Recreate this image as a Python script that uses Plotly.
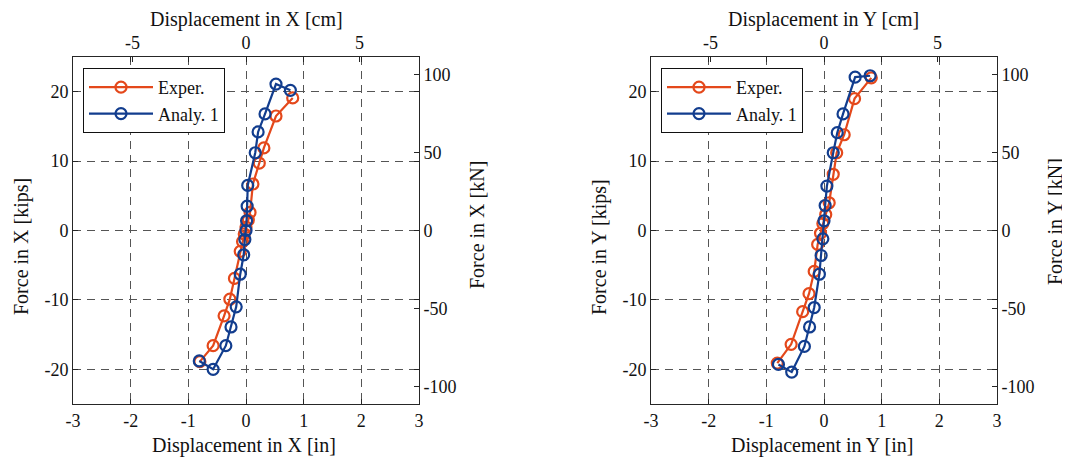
import plotly.graph_objects as go

# ---------------- Data ----------------
# Left panel: X direction  (displacement [in], force [kips])
x_exp_X = [-0.80, -0.57, -0.38, -0.28, -0.20, -0.10, -0.06, -0.03, 0.00, 0.04, 0.07, 0.12, 0.23, 0.31, 0.52, 0.81]
f_exp_X = [-18.9, -16.6, -12.3, -9.9, -6.9, -3.0, -1.6, -0.5, 0.5, 1.5, 2.6, 6.7, 9.7, 11.9, 16.5, 19.1]
x_ana_X = [-0.81, -0.57, -0.35, -0.26, -0.17, -0.10, -0.04, -0.02, 0.00, 0.01, 0.02, 0.03, 0.16, 0.21, 0.33, 0.52, 0.77]
f_ana_X = [-18.8, -20.0, -16.6, -13.9, -11.0, -6.3, -3.5, -1.3, 0.0, 1.4, 3.5, 6.5, 11.2, 14.2, 16.8, 21.1, 20.2]

# Right panel: Y direction
x_exp_Y = [-0.81, -0.57, -0.37, -0.26, -0.17, -0.11, -0.06, -0.02, 0.03, 0.09, 0.16, 0.22, 0.35, 0.53, 0.82]
f_exp_Y = [-19.1, -16.4, -11.7, -9.1, -5.9, -2.0, -0.4, 1.0, 2.3, 4.0, 8.1, 11.2, 13.8, 19.0, 22.0]
x_ana_Y = [-0.79, -0.56, -0.34, -0.25, -0.17, -0.08, -0.05, -0.02, 0.00, 0.02, 0.05, 0.16, 0.23, 0.33, 0.54, 0.80]
f_ana_Y = [-19.3, -20.4, -16.7, -13.9, -11.1, -6.3, -3.6, -1.2, 1.4, 3.6, 6.4, 11.2, 14.1, 16.8, 22.1, 22.3]

series_names = ["Exper.", "Analy. 1"]
x_ticks = [-3, -2, -1, 0, 1, 2, 3]
y_ticks = [-20, -10, 0, 10, 20]
cm_ticks = [-5, 0, 5]
kn_ticks = [-100, -50, 0, 50, 100]
x_range = [-3, 3]
y_range = [-25, 25]

IN_TO_CM = 2.54
KIP_TO_KN = 4.448222

# ---------------- Styling ----------------
W, H = 1070, 463
OFF = 8  # page body margin
FONT = "Liberation Serif, Times New Roman, serif"
C_EXP = "#E4481B"
C_ANA = "#123D8E"
AX_COL = "#262626"
GRID_COL = "#555555"

def px(v):
    return (v - OFF) / W

def py(v):
    return 1 - (v - OFF) / H

dom_L = [px(73), px(419)]
dom_R = [px(651), px(997)]
dom_Y = [py(404), py(57)]

fig = go.Figure()

def add_series(xs, fs, name, color, xa, ya, legend):
    fig.add_trace(go.Scatter(
        x=xs, y=fs, name=name, mode="lines+markers",
        line=dict(color=color, width=2.2),
        marker=dict(symbol="circle-open", size=11, color=color, line=dict(width=2.2, color=color)),
        xaxis=xa, yaxis=ya, legend=legend, hoverinfo="skip",
    ))

add_series(x_exp_X, f_exp_X, series_names[0], C_EXP, "x", "y", "legend")
add_series(x_ana_X, f_ana_X, series_names[1], C_ANA, "x", "y", "legend")
add_series(x_exp_Y, f_exp_Y, series_names[0], C_EXP, "x2", "y2", "legend2")
add_series(x_ana_Y, f_ana_Y, series_names[1], C_ANA, "x2", "y2", "legend2")

# invisible traces so the secondary (cm / kN) axes are drawn
for xs, fs, xa, ya in [(x_exp_X, f_exp_X, "x3", "y3"), (x_exp_Y, f_exp_Y, "x4", "y4")]:
    fig.add_trace(go.Scatter(
        x=[v * IN_TO_CM for v in xs], y=[v * KIP_TO_KN for v in fs],
        mode="markers", marker=dict(opacity=0), showlegend=False,
        hoverinfo="skip", xaxis=xa, yaxis=ya,
    ))

tickfont = dict(family=FONT, size=18, color="#111")

def labels(vals):
    return [str(v) for v in vals]

common_axis = dict(ticks="inside", ticklen=5, tickcolor=AX_COL, tickwidth=1,
                   showline=True, linecolor=AX_COL, linewidth=1, zeroline=False,
                   tickfont=tickfont, fixedrange=True, automargin=False)

def prim_x(dom, anchor):
    return dict(domain=dom, anchor=anchor, range=x_range, tickvals=x_ticks,
                ticktext=labels(x_ticks),
                mirror="ticks", showgrid=True, gridcolor=GRID_COL,
                griddash="8px,6px", gridwidth=1, **common_axis)

def prim_y(anchor):
    return dict(domain=dom_Y, anchor=anchor, range=y_range, tickvals=y_ticks,
                ticktext=labels(y_ticks),
                mirror="ticks", showgrid=True, gridcolor=GRID_COL,
                griddash="8px,6px", gridwidth=1, **common_axis)

def sec_x(overlay, anchor):
    return dict(overlaying=overlay, anchor=anchor, side="top",
                range=[x_range[0] * IN_TO_CM, x_range[1] * IN_TO_CM], tickvals=cm_ticks,
                ticktext=labels(cm_ticks), showgrid=False, **common_axis)

def sec_y(overlay, anchor):
    return dict(overlaying=overlay, anchor=anchor, side="right",
                range=[y_range[0] * KIP_TO_KN, y_range[1] * KIP_TO_KN], tickvals=kn_ticks,
                ticktext=labels(kn_ticks), showgrid=False, **common_axis)

legend_common = dict(
    xanchor="left", yanchor="top", bgcolor="white", bordercolor="#111",
    borderwidth=1, font=dict(family=FONT, size=18, color="#111"),
    itemwidth=64, tracegroupgap=0,
)

fig.update_layout(
    template="none",
    width=W, height=H, margin=dict(l=0, r=0, t=0, b=0, pad=0, autoexpand=False),
    paper_bgcolor="white", plot_bgcolor="white",
    font=dict(family=FONT, size=18, color="#111"),
    xaxis=prim_x(dom_L, "y"), yaxis=prim_y("x"),
    xaxis2=prim_x(dom_R, "y2"), yaxis2=prim_y("x2"),
    xaxis3=sec_x("x", "y"), yaxis3=sec_y("y", "x"),
    xaxis4=sec_x("x2", "y2"), yaxis4=sec_y("y2", "x2"),
    legend=dict(x=px(83), y=py(68), **legend_common),
    legend2=dict(x=px(661), y=py(68), **legend_common),
    showlegend=True,
)

title_font = dict(family=FONT, size=20, color="#111")
annots = [
    ("Displacement in X [cm]", 246, 19, 0),
    ("Displacement in X [in]", 244, 445, 0),
    ("Force in X [kips]", 21, 247, -90),
    ("Force in X [kN]", 477, 225, -90),
    ("Displacement in Y [cm]", 823, 19, 0),
    ("Displacement in Y [in]", 822, 445, 0),
    ("Force in Y [kips]", 599, 247, -90),
    ("Force in Y [kN]", 1055, 222, -90),
]
for text, ax_, ay_, ang in annots:
    fig.add_annotation(text=text, x=px(ax_), y=py(ay_), xref="paper", yref="paper",
                       xanchor="center", yanchor="middle", showarrow=False,
                       textangle=ang, font=title_font)

fig.write_html("out.html")
